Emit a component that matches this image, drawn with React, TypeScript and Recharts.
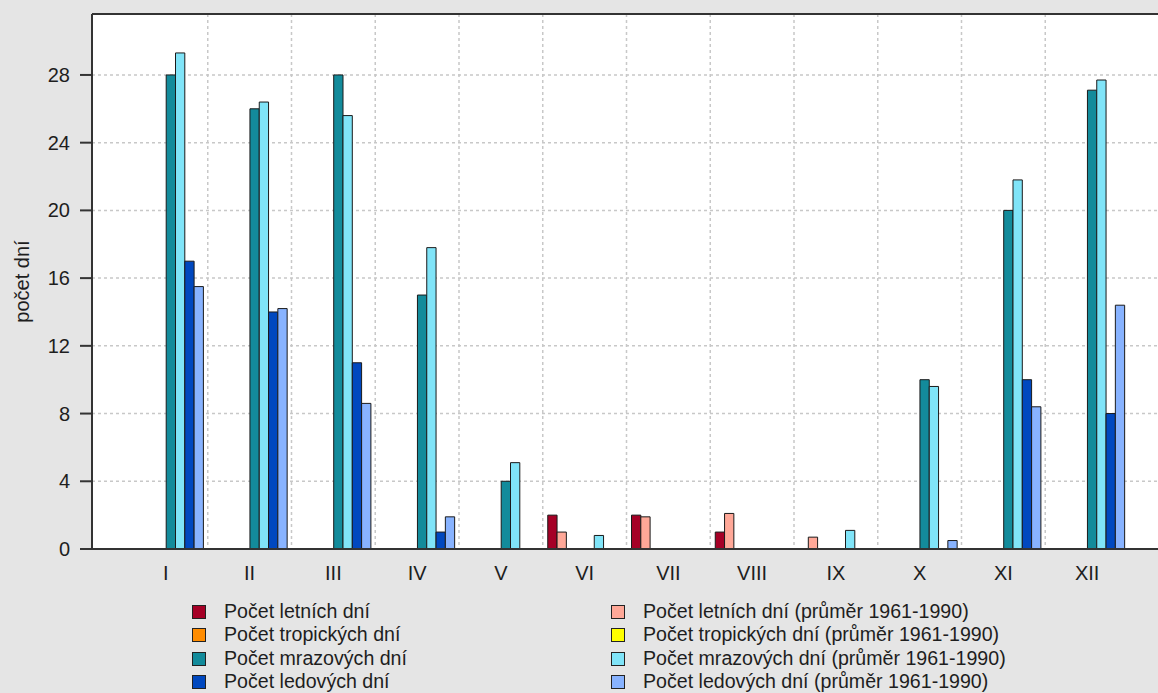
import React from 'react';
import { BarChart, Bar, XAxis, YAxis, CartesianGrid, ReferenceLine } from 'recharts';

const months = ['I', 'II', 'III', 'IV', 'V', 'VI', 'VII', 'VIII', 'IX', 'X', 'XI', 'XII'];
const letni = [0, 0, 0, 0, 0, 2, 2, 1, 0, 0, 0, 0];
const letniAvg = [0, 0, 0, 0, 0, 1.0, 1.9, 2.1, 0.7, 0, 0, 0];
const tropicke = [0, 0, 0, 0, 0, 0, 0, 0, 0, 0, 0, 0];
const tropickeAvg = [0, 0, 0, 0, 0, 0, 0, 0, 0, 0, 0, 0];
const mrazove = [28, 26, 28, 15, 4, 0, 0, 0, 0, 10, 20, 27.1];
const mrazoveAvg = [29.3, 26.4, 25.6, 17.8, 5.1, 0.8, 0, 0, 1.1, 9.6, 21.8, 27.7];
const ledove = [17, 14, 11, 1, 0, 0, 0, 0, 0, 0, 10, 8];
const ledoveAvg = [15.5, 14.2, 8.6, 1.9, 0, 0, 0, 0, 0, 0.5, 8.4, 14.4];
const yTicks = [0, 4, 8, 12, 16, 20, 24, 28];
const yMax = 31.6;

const series = [
  { key: 'letni', name: 'Počet letních dní', values: letni, color: '#a50026' },
  { key: 'letniAvg', name: 'Počet letních dní (průměr 1961-1990)', values: letniAvg, color: '#ffa898' },
  { key: 'tropicke', name: 'Počet tropických dní', values: tropicke, color: '#ff8c00' },
  { key: 'tropickeAvg', name: 'Počet tropických dní (průměr 1961-1990)', values: tropickeAvg, color: '#ffff00' },
  { key: 'mrazove', name: 'Počet mrazových dní', values: mrazove, color: '#138b9b' },
  { key: 'mrazoveAvg', name: 'Počet mrazových dní (průměr 1961-1990)', values: mrazoveAvg, color: '#80e4f8' },
  { key: 'ledove', name: 'Počet ledových dní', values: ledove, color: '#0048bf' },
  { key: 'ledoveAvg', name: 'Počet ledových dní (průměr 1961-1990)', values: ledoveAvg, color: '#88b3ff' },
];

const data = months.map((m, i) => {
  const row: any = { month: m };
  series.forEach((s) => { row[s.key] = s.values[i]; });
  return row;
});

const FONT = '"Liberation Sans", Arial, sans-serif';
const TEXT = '#1e1e1e';

// layout constants
const CHART_W = 1170;
const CHART_H = 693;
const MARGIN = { top: 14, right: 6, bottom: 104, left: 0 };
const Y_AXIS_W = 92;
const PAD_L = 32;
const PAD_R = 35;
const PLOT_LEFT = MARGIN.left + Y_AXIS_W;
const PLOT_W = CHART_W - MARGIN.right - PLOT_LEFT;
const BAND = (PLOT_W - PAD_L - PAD_R) / months.length;
// grid lines at the boundaries between month groups
const gridX = months.slice(1).map((_, i) => PLOT_LEFT + PAD_L + (i + 1) * BAND);

const YLabel = (props: any) => {
  const vb = props.viewBox || {};
  const cx = vb.x + 22;
  const cy = vb.y + vb.height / 2;
  return (
    <text x={cx} y={cy} transform={`rotate(-90, ${cx}, ${cy})`} textAnchor="middle" dominantBaseline="central"
      fontFamily={FONT} fontSize={20} fill={TEXT}>počet dní</text>
  );
};

const leftLegend = series.filter((_, i) => i % 2 === 0);
const rightLegend = series.filter((_, i) => i % 2 === 1);

const LegendCol = ({ items, left, boxLeft }: any) => (
  <div style={{ position: 'absolute', top: 601, left: 0 }}>
    {items.map((s: any, i: number) => (
      <div key={s.key} style={{ position: 'absolute', top: i * 23.3, left: 0, height: 23, width: 500 }}>
        <div style={{ position: 'absolute', left: boxLeft, top: 4, width: 12, height: 12, background: s.color, border: '1.5px solid #222' }} />
        <div style={{ position: 'absolute', left: left, top: -1, fontFamily: FONT, fontSize: 19.6, color: TEXT, whiteSpace: 'nowrap', lineHeight: '23px' }}>{s.name}</div>
      </div>
    ))}
  </div>
);

export default function App() {
  return (
    <div style={{ position: 'fixed', left: 0, top: 0, width: 1158, height: 693, overflow: 'hidden', background: '#e5e5e5' }}>
      <BarChart width={CHART_W} height={CHART_H} data={data} margin={MARGIN} barGap={0} barSize={9.3}>
        <CartesianGrid stroke="#c8c8c8" strokeWidth={1.5} strokeDasharray="3 3" fill="#ffffff"
          verticalPoints={gridX} />
        <XAxis dataKey="month" interval={0} padding={{ left: PAD_L, right: PAD_R }} height={40}
          tickLine={false} tickSize={0} tickMargin={17}
          axisLine={{ stroke: '#333', strokeWidth: 2 }}
          tick={{ fontFamily: FONT, fontSize: 20, fill: TEXT }} />
        <YAxis domain={[0, yMax]} ticks={yTicks} width={Y_AXIS_W} tickSize={12} tickMargin={10}
          axisLine={{ stroke: '#333', strokeWidth: 2 }} tickLine={{ stroke: '#333', strokeWidth: 2 }}
          tick={{ fontFamily: FONT, fontSize: 20, fill: TEXT }} allowDataOverflow
          label={<YLabel />} />
        <ReferenceLine y={yMax} stroke="#333" strokeWidth={2} />
        {series.map((s) => (
          <Bar key={s.key} dataKey={s.key} name={s.name} fill={s.color} stroke="#1a1a1a" strokeWidth={1}
            isAnimationActive={false} />
        ))}
      </BarChart>
      <LegendCol items={leftLegend} boxLeft={192} left={224} />
      <LegendCol items={rightLegend} boxLeft={611} left={643} />
    </div>
  );
}
